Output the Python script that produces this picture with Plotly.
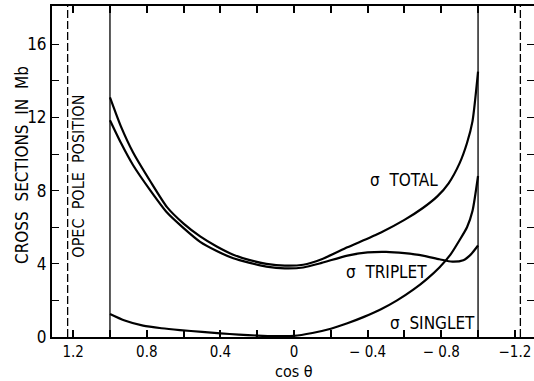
import plotly.graph_objects as go

# Data
total_cos = [1.0, 0.94, 0.875, 0.78, 0.69, 0.6, 0.51, 0.42, 0.33, 0.24, 0.15, 0.05, -0.05, -0.15, -0.29, -0.47, -0.6, -0.7, -0.78, -0.84, -0.9, -0.94, -0.97, -1.0]
total_y = [13.1, 11.5, 10.1, 8.5, 7.1, 6.2, 5.5, 4.95, 4.5, 4.2, 4.0, 3.9, 3.95, 4.25, 4.9, 5.7, 6.4, 7.05, 7.7, 8.4, 9.5, 10.6, 11.8, 14.5]

triplet_cos = [1.0, 0.94, 0.875, 0.78, 0.69, 0.6, 0.51, 0.42, 0.33, 0.24, 0.15, 0.05, -0.05, -0.15, -0.29, -0.4, -0.5, -0.6, -0.7, -0.79, -0.86, -0.92, -0.96, -1.0]
triplet_y = [11.85, 10.6, 9.4, 8.0, 6.8, 5.95, 5.2, 4.7, 4.3, 4.05, 3.85, 3.75, 3.8, 4.05, 4.45, 4.62, 4.65, 4.58, 4.45, 4.25, 4.12, 4.2, 4.5, 5.0]

singlet_cos = [1.0, 0.92, 0.82, 0.72, 0.62, 0.5, 0.4, 0.3, 0.2, 0.1, 0.0, -0.10, -0.2, -0.29, -0.38, -0.47, -0.56, -0.65, -0.72, -0.79, -0.85, -0.90, -0.94, -0.97, -1.0]
singlet_y = [1.26, 0.9, 0.62, 0.48, 0.38, 0.28, 0.2, 0.13, 0.08, 0.05, 0.06, 0.22, 0.45, 0.75, 1.1, 1.5, 2.0, 2.6, 3.15, 3.8, 4.5, 5.3, 6.0, 6.9, 8.8]

x_tick_vals = [1.2, 1.0, 0.8, 0.6, 0.4, 0.2, 0.0, -0.2, -0.4, -0.6, -0.8, -1.0, -1.2]
x_tick_text = ["1.2", "", "0.8", "", "0.4", "", "0", "", "\u2212 0.4", "", "\u2212 0.8", "", "\u22121.2"]
y_tick_vals = [0, 2, 4, 6, 8, 10, 12, 14, 16]
y_tick_text = ["0", "", "4", "", "8", "", "12", "", "16"]

edges = [1.0, -1.0]
pole = [1.23, -1.23]

FONT = "DejaVu Sans Condensed, Liberation Sans Narrow, sans-serif"

L, R, T, B = 52, 0, 6, 44
W, H = 534, 381
PW, PH = W - L - R, H - T - B


def px_to_paper(px, py):
    return (px - L) / PW, (H - B - py) / PH


fig = go.Figure()
for xs, ys in [(total_cos, total_y), (triplet_cos, triplet_y), (singlet_cos, singlet_y)]:
    fig.add_trace(go.Scatter(x=xs, y=ys, mode="lines",
                             line=dict(color="black", width=2.2, shape="spline", smoothing=0.6),
                             showlegend=False, hoverinfo="skip"))

for e in edges:
    fig.add_shape(type="line", xref="x", yref="paper", x0=e, x1=e, y0=0, y1=1,
                  line=dict(color="black", width=1.3))
for p in pole:
    fig.add_shape(type="line", xref="x", yref="paper", x0=p, x1=p, y0=0, y1=1,
                  line=dict(color="black", width=1.3, dash="8px,3px"))

ann = [
    dict(x=-0.6, y=8.6, text="\u03c3  TOTAL"),
    dict(x=-0.5, y=3.55, text="\u03c3  TRIPLET"),
    dict(x=-0.75, y=0.78, text="\u03c3  SINGLET"),
]
for a in ann:
    fig.add_annotation(x=a["x"], y=a["y"], text=a["text"], showarrow=False,
                       xref="x", yref="y", font=dict(family=FONT, size=17, color="black"))

fig.add_annotation(x=1.17, y=8.8, text="OPEC  POLE  POSITION", textangle=-90, showarrow=False,
                   xref="x", yref="y", font=dict(family=FONT, size=16, color="black"))

ax, ay = px_to_paper(22, 165)
fig.add_annotation(x=ax, y=ay, text="CROSS  SECTIONS  IN  Mb", textangle=-90, showarrow=False,
                   xref="paper", yref="paper", xanchor="center", yanchor="middle",
                   font=dict(family=FONT, size=17, color="black"))
cx, cy = px_to_paper(294, 371)
fig.add_annotation(x=cx, y=cy, text="cos \u03b8", showarrow=False,
                   xref="paper", yref="paper", xanchor="center", yanchor="middle",
                   font=dict(family=FONT, size=16, color="black"))

fig.update_layout(
    width=W, height=H,
    margin=dict(l=L, r=R, t=T, b=B, autoexpand=False),
    paper_bgcolor="white", plot_bgcolor="white",
    font=dict(family=FONT, size=16, color="black"),
    xaxis=dict(range=[1.315, -1.304], tickvals=x_tick_vals, ticktext=x_tick_text,
               ticks="inside", ticklen=7, tickwidth=1.5, tickcolor="black",
               showline=True, linecolor="black", linewidth=2, mirror="ticks",
               showgrid=False, zeroline=False, automargin=False, tickfont=dict(size=15)),
    yaxis=dict(range=[0, 18.09], tickvals=y_tick_vals, ticktext=y_tick_text,
               ticks="inside", ticklen=7, tickwidth=1.3, tickcolor="black",
               showline=True, linecolor="black", linewidth=2, mirror="ticks",
               showgrid=False, zeroline=False, automargin=False, tickfont=dict(size=17)),
)

fig.write_html("out.html", config={"displayModeBar": False},
               post_script="document.body.style.margin='0px';document.body.style.overflow='hidden';")
